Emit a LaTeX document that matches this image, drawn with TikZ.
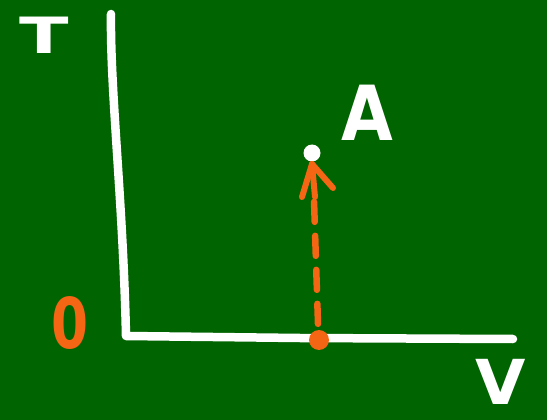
\documentclass[tikz,border=0pt]{standalone}
\usepackage{fontspec}
\setmainfont{DejaVu Sans}
\usetikzlibrary{arrows.meta}
\definecolor{board}{RGB}{0,100,0}
\definecolor{chalkorange}{RGB}{245,102,20}
\tikzset{
  chalk/.style={white, line width=8.5pt, line cap=round, line join=round},
  label/.style={inner sep=0pt, anchor=base, font=\bfseries},
  dotnode/.style={circle, inner sep=0pt, minimum size=#1},
  arrowline/.style={chalkorange, line width=6.5pt, line cap=round, dash pattern=on 20pt off 14pt},
  barb/.style={chalkorange, line width=6pt, line cap=round}
}
\begin{document}
\begin{tikzpicture}[x=1pt, y=-1pt]
\fill[board] (0,0) rectangle (547,420);
\useasboundingbox (0,0) rectangle (547,420);
% axes
\draw[chalk] (111,14) .. controls (110,90) and (123,200) .. (126,336) -- (300,338) -- (513,339);
% labels
\node[label, white, font=\bfseries\fontsize{50}{50}\selectfont, xscale=1.45] (T) at (44,54) {T};
\node[label, white, font=\bfseries\fontsize{76}{76}\selectfont, xscale=0.88] (Alabel) at (367,141) {A};
\node[label, chalkorange, font=\bfseries\fontsize{70}{70}\selectfont, xscale=0.76] (zero) at (70,348) {0};
\node[label, white, font=\bfseries\fontsize{62}{62}\selectfont, xscale=1.05] (V) at (501,404) {V};
% points
\node[dotnode=17pt, fill=white] (A) at (312,153) {};
\node[dotnode=20pt, fill=chalkorange] (O) at (319,340) {};
\coordinate (tip) at (312,164);
% dashed shaft
\draw[arrowline] (O.north) ++(-1,-6) -- (314,200);
\draw[barb] (tip) -- (315,197);
\draw[barb] (tip) -- (302,197);
\draw[barb] (tip) -- (333,188);
\end{tikzpicture}
\end{document}
